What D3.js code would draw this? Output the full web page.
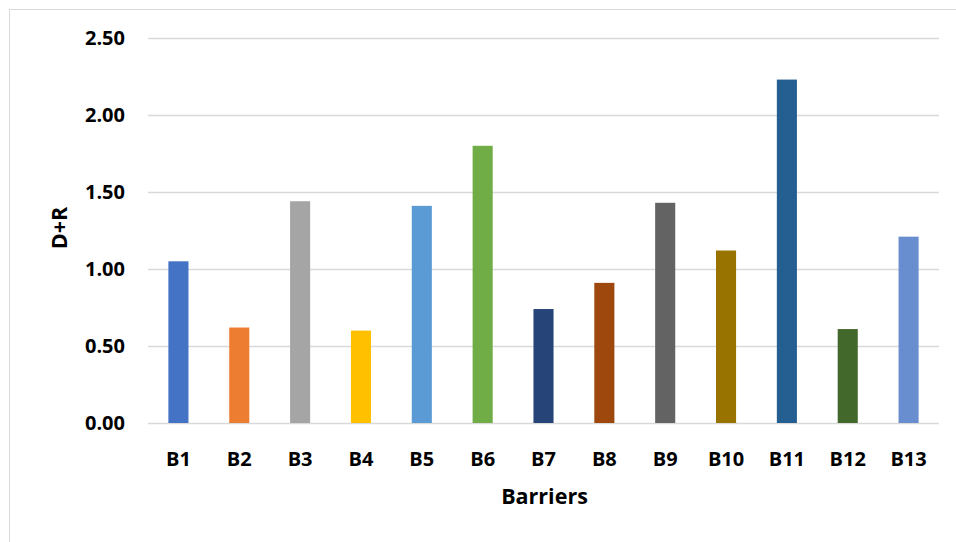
<!DOCTYPE html>
<html>
<head>
<meta charset="utf-8">
<script src="https://cdn.jsdelivr.net/npm/d3@7/dist/d3.min.js"></script>
<style>
  html, body { margin: 0; padding: 0; background: #fff; }
  svg { display: block; }
  text { font-family: "Open Sans", Lato, sans-serif; font-weight: bold; fill: #000; }
</style>
</head>
<body>
<svg id="chart" width="956" height="542"></svg>
<script>
// Barrier scores (D+R) per barrier
const categories = ["B1","B2","B3","B4","B5","B6","B7","B8","B9","B10","B11","B12","B13"];
const values = [1.05, 0.62, 1.44, 0.60, 1.41, 1.80, 0.74, 0.91, 1.43, 1.12, 2.23, 0.61, 1.21];
const colors = ["#4472C4","#ED7D31","#A5A5A5","#FFC000","#5B9BD5","#70AD47","#264478","#9E480E","#636363","#997300","#255E91","#43682B","#698ED0"];
const yTicks = [0, 0.5, 1.0, 1.5, 2.0, 2.5];

const svg = d3.select("#chart");
const W = 956, H = 542;
const margin = { left: 148, right: 17, top: 38, bottom: 119 };
const FONT = '"Open Sans", Lato, sans-serif';

// outer chart frame
svg.append("rect")
  .attr("x", 9.5).attr("y", 9.5)
  .attr("width", W).attr("height", H)
  .attr("fill", "none").attr("stroke", "#d9d9d9").attr("stroke-width", 1);

const x = d3.scaleBand()
  .domain(categories)
  .range([margin.left, W - margin.right])
  .paddingInner(0.67).paddingOuter(0.335);

const y = d3.scaleLinear()
  .domain([0, 2.5])
  .range([H - margin.bottom, margin.top]);

// value axis with horizontal gridlines
const yAxis = d3.axisLeft(y)
  .tickValues(yTicks)
  .tickSize(-(W - margin.right - margin.left))
  .tickPadding(23)
  .tickFormat(d3.format(".2f"));

const gy = svg.append("g")
  .attr("transform", `translate(${margin.left},0)`)
  .call(yAxis);
gy.select(".domain").remove();
gy.selectAll(".tick line").attr("stroke", "#d9d9d9").attr("stroke-width", 1.5);
gy.selectAll(".tick text").attr("font-size", 20).style("font-family", FONT).style("font-weight", "bold");

// bars
svg.append("g").selectAll("rect")
  .data(values)
  .join("rect")
  .attr("x", (d, i) => x(categories[i]))
  .attr("y", d => y(d))
  .attr("width", x.bandwidth())
  .attr("height", d => y(0) - y(d))
  .attr("fill", (d, i) => colors[i]);

// category axis
const xAxis = d3.axisBottom(x).tickSize(0).tickPadding(29);
const gx = svg.append("g")
  .attr("transform", `translate(0,${H - margin.bottom})`)
  .call(xAxis);
gx.select(".domain").remove();
gx.selectAll(".tick text").attr("font-size", 20).style("font-family", FONT).style("font-weight", "bold");

// axis titles
svg.append("text")
  .attr("x", (margin.left + W - margin.right) / 2 + 1)
  .attr("y", 504)
  .attr("text-anchor", "middle")
  .attr("font-size", 21.5)
  .text("Barriers");

svg.append("text")
  .attr("transform", `translate(67,228) rotate(-90)`)
  .attr("text-anchor", "middle")
  .attr("font-size", 21.5)
  .text("D+R");
</script>
</body>
</html>
